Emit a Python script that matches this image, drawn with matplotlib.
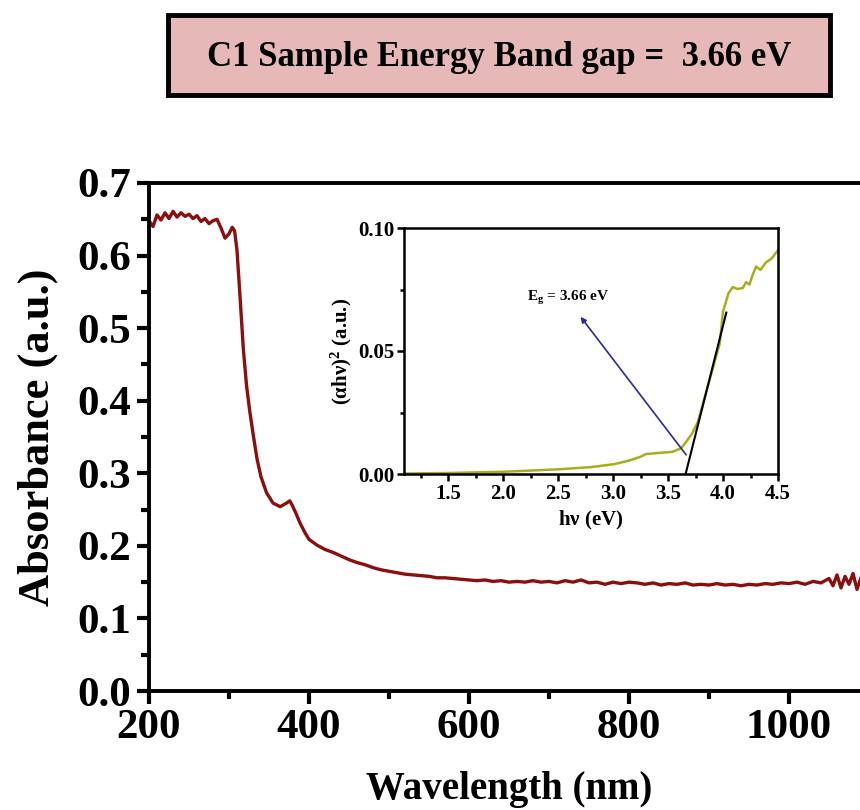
import numpy as np
import matplotlib.pyplot as plt
from matplotlib.patches import Rectangle
from matplotlib.ticker import MultipleLocator

plt.rcParams['font.family'] = ['Liberation Serif', 'DejaVu Serif']
plt.rcParams['font.weight'] = 'bold'
plt.rcParams['mathtext.fontset'] = 'custom'
plt.rcParams['mathtext.rm'] = 'Liberation Serif:bold'
plt.rcParams['mathtext.it'] = 'Liberation Serif:bold'
plt.rcParams['mathtext.bf'] = 'Liberation Serif:bold'

# Espectro de absorbancia (nm, u.a.)
wavelength = [200, 205, 210, 215, 220, 225, 230, 235, 240, 245, 250, 255, 260, 265,
              270, 275, 280, 285, 290, 295, 300, 304, 307, 310, 314, 318, 322, 326,
              330, 335, 340, 347, 355, 364, 372, 376, 379, 384, 389, 395,
              400, 410, 420, 430, 440, 450, 460, 470, 480, 490, 500, 510, 520, 530,
              540, 550, 560, 570, 580, 590, 600, 610, 620, 630, 640, 650, 660, 670,
              680, 690, 700, 710, 720, 730, 740, 750, 760, 770, 780, 790, 800, 810,
              820, 830, 840, 850, 860, 870, 880, 890, 900, 910, 920, 930, 940, 950,
              960, 970, 980, 990, 1000, 1010, 1020, 1030, 1040, 1050, 1055, 1060,
              1065, 1070, 1075, 1080, 1085, 1090, 1095, 1100]
absorbance = [0.648, 0.640, 0.656, 0.649, 0.659, 0.651, 0.661, 0.653, 0.659, 0.654,
              0.657, 0.651, 0.655, 0.647, 0.651, 0.644, 0.648, 0.650, 0.638, 0.624,
              0.630, 0.639, 0.634, 0.607, 0.540, 0.470, 0.420, 0.385,
              0.355, 0.320, 0.295, 0.273, 0.259, 0.254, 0.259, 0.262, 0.256, 0.244,
              0.231, 0.218,
              0.209, 0.201, 0.195, 0.191, 0.186, 0.181, 0.177, 0.174, 0.170, 0.167,
              0.165, 0.163, 0.161, 0.160, 0.159, 0.158, 0.156, 0.156, 0.155, 0.154,
              0.153, 0.152, 0.153, 0.151, 0.152, 0.150, 0.151, 0.150, 0.152, 0.150,
              0.151, 0.149, 0.152, 0.150, 0.153, 0.149, 0.150, 0.147, 0.150, 0.148,
              0.150, 0.149, 0.147, 0.149, 0.146, 0.148, 0.147, 0.149, 0.146, 0.147,
              0.146, 0.148, 0.146, 0.147, 0.145, 0.147, 0.146, 0.148, 0.147, 0.149,
              0.148, 0.150, 0.147, 0.151, 0.149, 0.155, 0.145, 0.160, 0.142, 0.158,
              0.147, 0.162, 0.140, 0.156, 0.135, 0.150]

# Grafica de Tauc (eV, (alpha h nu)^2)
energy = [1.10, 1.50, 2.00, 2.50, 2.80, 3.01, 3.15, 3.25, 3.30, 3.40, 3.54, 3.62,
          3.66, 3.72, 3.77, 3.82, 3.87, 3.92, 3.97, 4.00, 4.05, 4.09, 4.13, 4.18,
          4.21, 4.24, 4.27, 4.30, 4.34, 4.39, 4.44, 4.50]
tauc = [0.0002, 0.0004, 0.0009, 0.0019, 0.0028, 0.0040, 0.0055, 0.0070, 0.0081,
        0.0085, 0.0090, 0.0105, 0.0128, 0.0165, 0.0210, 0.0290, 0.0370, 0.0450,
        0.0530, 0.0660, 0.0735, 0.0760, 0.0752, 0.0756, 0.0780, 0.0770, 0.0810,
        0.0843, 0.0830, 0.0860, 0.0875, 0.0910]

tangent_x = [3.66, 4.03]
tangent_y = [0.0, 0.0656]
arrow_tail = (3.68, 0.0069)
arrow_head = (2.69, 0.0648)

fig = plt.figure(figsize=(8.6, 8.1), dpi=100)

# Recuadro del titulo
fig.patches.append(Rectangle((168 / 860, 1 - 95 / 810), 662 / 860, 80 / 810,
                             transform=fig.transFigure, facecolor='#e6b8b7',
                             edgecolor='black', linewidth=3.5, zorder=0))
fig.text(0.580, 1 - 57 / 810, 'C1 Sample Energy Band gap =  3.66 eV',
         ha='center', va='center', fontsize=25, fontweight='bold')

# Grafica principal
ax = fig.add_axes([149 / 860, 119 / 810, 720 / 860, 508 / 810])
ax.plot(wavelength, absorbance, color='#8b0f0f', linewidth=2.4)
ax.set_xlim(200, 1100)
ax.set_ylim(0, 0.7)
ax.xaxis.set_major_locator(MultipleLocator(200))
ax.xaxis.set_minor_locator(MultipleLocator(100))
ax.yaxis.set_major_locator(MultipleLocator(0.1))
ax.yaxis.set_minor_locator(MultipleLocator(0.05))
ax.tick_params(which='major', direction='out', length=9, width=3,
               labelsize=31, pad=4)
ax.tick_params(which='minor', direction='out', length=6, width=3)
ax.yaxis.set_major_formatter(plt.FormatStrFormatter('%.1f'))
for s in ax.spines.values():
    s.set_linewidth(2.8)
ax.set_xlabel('Wavelength (nm)', fontsize=28, fontweight='bold', labelpad=17)
ax.set_ylabel('Absorbance (a.u.)', fontsize=32, fontweight='bold', labelpad=14)

# Recuadro interno
ins = fig.add_axes([404 / 860, 336 / 810, 374 / 860, 246 / 810])
ins.plot(energy, tauc, color='#a8ad1e', linewidth=1.8)
ins.plot(tangent_x, tangent_y, color='black', linewidth=1.5)
ins.annotate('', xy=arrow_head, xytext=arrow_tail,
             arrowprops=dict(arrowstyle='-|>', color='#2a2a9c', lw=1.2,
                             mutation_scale=8))
ins.text(2.22, 0.0717, r'E$_\mathregular{g}$ = 3.66 eV', fontsize=11,
         fontweight='bold', va='center')
ins.set_xlim(1.1, 4.5)
ins.set_ylim(0, 0.1)
ins.xaxis.set_major_locator(MultipleLocator(0.5))
ins.xaxis.set_minor_locator(MultipleLocator(0.25))
ins.yaxis.set_major_locator(MultipleLocator(0.05))
ins.yaxis.set_minor_locator(MultipleLocator(0.025))
ins.yaxis.set_major_formatter(plt.FormatStrFormatter('%.2f'))
ins.xaxis.set_major_formatter(plt.FormatStrFormatter('%.1f'))
ins.tick_params(which='major', direction='out', length=5, width=1.8,
                labelsize=15, pad=2)
ins.tick_params(which='minor', direction='out', length=3, width=1.8)
for s in ins.spines.values():
    s.set_linewidth(1.8)
ins.set_xlabel(r'h$\nu$ (eV)', fontsize=15, fontweight='bold', labelpad=4)
ins.set_ylabel(r'($\alpha$h$\nu$)$^\mathregular{2}$ (a.u.)', fontsize=15,
               fontweight='bold', labelpad=3)

fig.savefig('out.png', dpi=100)
